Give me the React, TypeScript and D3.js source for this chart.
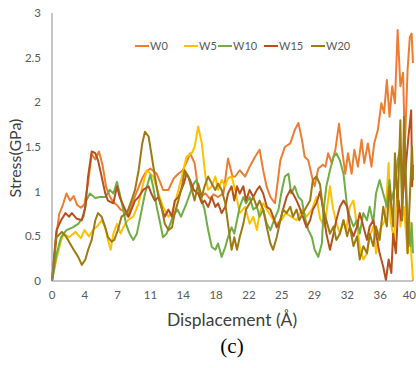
import React from "react";
import * as d3 from "d3";

const W0: [number, number][] = [[0,0],[0.4,0.45],[0.8,0.75],[1.2,0.85],[1.6,0.98],[2.0,0.9],[2.4,0.95],[2.8,0.85],[3.2,0.82],[3.6,0.86],[4.0,1.1],[4.4,1.42],[4.8,1.36],[5.2,1.45],[5.6,1.3],[6.0,1.05],[6.4,0.95],[6.8,0.88],[7.2,0.85],[7.6,0.8],[8.0,0.78],[8.4,0.72],[8.8,0.85],[9.2,0.95],[9.6,1.05],[10.0,1.15],[10.4,1.22],[10.9,1.26],[11.6,1.2],[12.0,1.1],[12.3,1.02],[12.9,1.02],[13.5,1.15],[14.0,1.2],[14.5,1.24],[15.0,1.35],[15.3,1.43],[15.8,1.32],[16.1,1.1],[16.4,0.94],[17.0,0.98],[17.5,0.92],[17.9,0.97],[18.4,0.94],[19.0,0.98],[19.5,1.37],[20.0,1.17],[20.3,1.17],[20.8,1.24],[21.4,1.17],[21.9,1.28],[22.5,1.39],[23.0,1.47],[23.4,1.24],[23.8,1.05],[24.2,0.94],[24.7,0.87],[25.0,1.1],[25.3,1.35],[25.8,1.5],[26.4,1.54],[26.9,1.69],[27.3,1.77],[27.7,1.58],[28.0,1.39],[28.4,1.35],[28.8,1.17],[29.1,1.06],[29.5,1.26],[30.0,1.3],[30.3,1.28],[30.6,1.43],[31.0,1.32],[31.4,1.47],[31.8,1.76],[32.1,1.5],[32.5,1.2],[32.8,1.43],[33.2,1.2],[33.5,1.47],[33.9,1.28],[34.3,1.58],[34.6,1.32],[35.0,1.54],[35.4,1.28],[35.7,1.54],[36.1,1.69],[36.5,1.99],[36.8,1.88],[37.1,2.25],[37.4,1.84],[37.7,2.18],[38.0,1.99],[38.3,2.81],[38.6,2.18],[38.9,2.33],[39.1,1.5],[39.4,2.36],[39.65,2.73],[39.85,2.77],[40,2.44]];

const W5: [number, number][] = [[0,0],[0.5,0.25],[1.0,0.45],[1.3,0.53],[1.9,0.49],[2.6,0.55],[3.2,0.48],[3.6,0.57],[4.1,0.5],[4.6,0.58],[5.0,0.61],[5.5,0.68],[5.9,0.6],[6.2,0.46],[6.5,0.35],[6.8,0.53],[7.2,0.64],[7.6,0.53],[7.9,0.6],[8.4,0.68],[9.0,0.72],[9.6,0.87],[10.0,1.05],[10.5,1.24],[11.2,1.17],[11.8,0.98],[12.3,0.83],[12.9,0.72],[13.3,0.76],[13.8,0.94],[14.4,1.17],[14.9,1.39],[15.5,1.43],[15.8,1.5],[16.2,1.73],[16.6,1.54],[17.0,1.17],[17.3,1.02],[17.7,1.06],[18.1,1.17],[18.4,1.02],[18.8,1.13],[19.2,1.06],[19.5,1.15],[19.9,1.17],[20.3,1.02],[20.8,0.76],[21.4,0.83],[21.9,0.64],[22.3,0.72],[22.7,0.57],[23.0,0.76],[23.4,0.87],[23.8,0.8],[24.3,0.72],[24.8,0.64],[25.4,0.68],[25.9,0.76],[26.5,0.72],[27.1,0.68],[27.7,0.8],[28.2,0.72],[28.8,0.8],[29.3,0.94],[29.7,0.7],[30.2,0.61],[30.8,1.06],[31.1,0.83],[31.5,0.65],[31.9,0.53],[32.3,0.68],[32.6,0.57],[33.0,0.83],[33.4,0.9],[33.8,0.61],[34.1,0.39],[34.5,0.24],[34.9,0.31],[35.2,0.5],[35.6,0.61],[35.9,0.31],[36.3,0.57],[36.9,0.68],[37.3,1.32],[37.5,0.68],[37.9,0.46],[38.3,1.06],[38.6,0.61],[39.0,0.83],[39.4,0.31],[39.6,0.68],[39.85,0.24],[40,0.0]];

const W10: [number, number][] = [[0,0],[0.5,0.3],[1.0,0.49],[1.6,0.57],[2.3,0.6],[2.9,0.64],[3.5,0.72],[3.8,0.9],[4.2,0.98],[4.8,0.93],[5.3,0.94],[5.9,0.94],[6.4,1.02],[6.8,0.98],[7.2,1.11],[7.5,0.98],[7.9,0.8],[8.2,0.64],[8.6,0.53],[9.0,0.46],[9.4,0.53],[9.75,0.7],[10.3,0.98],[10.9,1.19],[11.2,1.06],[11.6,0.83],[12.0,0.64],[12.3,0.49],[12.7,0.53],[13.1,0.64],[13.4,0.72],[13.9,0.8],[14.3,0.72],[14.9,0.87],[15.3,0.98],[15.7,1.09],[16.0,1.13],[16.4,0.98],[16.9,0.8],[17.3,0.57],[17.7,0.38],[18.1,0.35],[18.4,0.42],[18.8,0.27],[19.2,0.38],[19.5,0.49],[19.9,0.6],[20.2,0.53],[20.5,0.68],[20.8,0.83],[21.2,0.94],[21.5,0.87],[21.9,0.94],[22.3,0.8],[22.7,0.83],[23.0,0.72],[23.4,0.8],[23.8,0.64],[24.2,0.57],[24.6,0.68],[25.1,0.8],[25.4,0.98],[25.8,1.17],[26.2,1.2],[26.5,0.98],[26.9,1.06],[27.3,0.94],[27.7,0.9],[28.0,0.72],[28.4,0.57],[28.8,0.49],[29.1,0.35],[29.5,0.27],[29.9,0.42],[30.1,0.8],[30.4,1.06],[30.8,1.24],[31.2,1.39],[31.5,1.43],[31.9,1.35],[32.3,1.2],[32.7,0.83],[33.0,0.72],[33.4,0.61],[33.8,0.68],[34.1,0.53],[34.5,0.76],[34.9,0.68],[35.2,0.83],[35.6,0.65],[35.9,0.98],[36.3,1.13],[36.7,0.98],[37.1,0.83],[37.4,1.13],[37.6,0.9],[38.0,1.06],[38.3,1.35],[38.6,1.5],[38.8,0.98],[39.1,1.5],[39.4,0.68],[39.7,0.39],[39.85,0.65],[40,0.31]];

const W15: [number, number][] = [[0,0],[0.5,0.57],[1.0,0.68],[1.5,0.76],[1.9,0.72],[2.2,0.76],[2.7,0.7],[3.3,0.68],[3.7,0.83],[4.0,1.17],[4.4,1.45],[4.8,1.43],[5.1,1.35],[5.5,1.17],[5.9,0.98],[6.2,0.9],[6.8,0.87],[7.2,1.06],[7.5,0.94],[8.1,0.8],[8.5,0.72],[8.8,0.8],[9.2,0.9],[9.6,0.94],[10.1,1.02],[10.7,1.06],[11.0,0.98],[11.4,0.9],[11.8,0.94],[12.2,0.8],[12.5,0.72],[12.9,0.8],[13.3,0.72],[13.6,0.9],[14.0,0.94],[14.6,1.09],[14.9,1.2],[15.3,1.13],[15.7,1.02],[16.2,0.98],[16.6,0.87],[16.9,0.9],[17.3,0.83],[17.7,0.94],[18.1,0.83],[18.4,0.87],[18.8,0.76],[19.2,0.83],[19.5,0.98],[19.9,1.06],[20.2,0.9],[20.5,1.06],[20.8,0.98],[21.2,1.06],[21.5,0.9],[21.9,1.02],[22.3,0.94],[22.7,1.02],[23.0,1.06],[23.4,0.98],[23.8,0.83],[24.2,0.8],[24.5,0.72],[24.9,0.6],[25.3,0.68],[25.6,0.8],[26.0,0.94],[26.4,1.02],[26.7,0.98],[27.1,0.9],[27.4,0.83],[27.8,0.72],[28.2,0.6],[28.6,0.68],[28.9,0.8],[29.3,0.87],[29.7,1.0],[30.0,0.83],[30.4,0.53],[30.8,0.35],[31.2,0.53],[31.5,0.68],[31.9,0.83],[32.3,0.9],[32.7,0.83],[33.0,0.61],[33.4,0.5],[33.8,0.61],[34.1,0.76],[34.5,0.61],[34.9,0.46],[35.2,0.61],[35.6,0.68],[35.9,0.53],[36.3,0.31],[36.7,0.16],[37.0,0.01],[37.3,0.24],[37.6,0.09],[37.8,0.53],[38.1,0.31],[38.4,0.9],[38.7,0.68],[38.9,0.98],[39.2,1.28],[39.5,1.62],[39.8,1.91],[39.9,1.06],[40,1.3]];

const W20: [number, number][] = [[0,0],[0.5,0.49],[1.1,0.55],[1.6,0.49],[2.0,0.42],[2.4,0.35],[2.9,0.27],[3.3,0.18],[3.7,0.24],[4.0,0.35],[4.4,0.46],[4.8,0.68],[5.1,0.76],[5.5,0.72],[5.9,0.6],[6.2,0.49],[6.6,0.44],[6.9,0.46],[7.3,0.57],[7.7,0.72],[8.3,0.76],[8.8,0.9],[9.2,1.02],[9.6,1.24],[10.0,1.54],[10.3,1.67],[10.7,1.62],[11.0,1.43],[11.4,1.17],[11.8,0.94],[12.2,0.8],[12.5,0.64],[12.9,0.57],[13.3,0.6],[13.6,0.76],[14.0,0.9],[14.4,1.06],[14.7,1.24],[15.1,1.17],[15.5,1.02],[15.8,0.9],[16.2,1.09],[16.6,0.94],[16.9,1.06],[17.3,1.17],[17.7,1.09],[18.1,1.02],[18.4,1.09],[18.8,1.02],[19.2,0.87],[19.5,0.64],[19.9,0.35],[20.2,0.49],[20.5,0.35],[20.8,0.49],[21.2,0.64],[21.5,0.8],[21.9,0.87],[22.3,0.94],[22.7,0.83],[23.0,0.9],[23.4,0.8],[23.8,0.6],[24.2,0.42],[24.5,0.35],[24.9,0.49],[25.3,0.68],[25.6,0.8],[26.0,0.76],[26.4,0.83],[26.7,0.72],[27.1,0.8],[27.4,0.68],[27.8,0.76],[28.2,0.83],[28.6,0.9],[28.9,1.13],[29.3,1.17],[29.7,1.08],[30.0,0.83],[30.4,0.68],[30.8,0.53],[31.2,0.61],[31.5,0.46],[31.9,0.53],[32.3,0.68],[32.7,0.5],[33.0,0.61],[33.4,0.39],[33.8,0.5],[34.1,0.24],[34.5,0.39],[34.9,0.31],[35.2,0.53],[35.6,0.39],[35.9,0.61],[36.3,0.46],[36.7,0.83],[37.1,0.61],[37.4,1.06],[37.8,0.61],[38.0,1.43],[38.3,0.83],[38.6,1.8],[38.8,0.68],[39.0,1.84],[39.2,1.06],[39.4,0.31],[39.7,1.06],[39.9,1.5],[40,1.13]];

const SERIES_NAMES = ["W0", "W5", "W10", "W15", "W20"];
const SERIES_DATA = [W0, W5, W10, W15, W20];
const SERIES_COLORS = ["#ED7D31", "#FFC000", "#70AD47", "#B8501C", "#9E7A12"];

const X_TICK_LABELS = ["0", "4", "7", "11", "14", "18", "22", "25", "29", "32", "36", "40"];
const Y_TICKS = [0, 0.5, 1, 1.5, 2, 2.5, 3];

const FONT = "Lato, 'Open Sans', sans-serif";

export default function App() {
  const x = d3.scaleLinear().domain([0, 40]).range([52, 413]);
  const y = d3.scaleLinear().domain([0, 3]).range([281, 13]);
  const tickPos = d3.scaleLinear().domain([0, X_TICK_LABELS.length - 1]).range([0, 40]);
  const line = d3
    .line<[number, number]>()
    .x((d) => x(d[0]))
    .y((d) => y(d[1]));

  const legendX = [135, 184, 218, 264, 311];
  const legendY = 46;

  return (
    <svg
      width={416}
      height={368}
      style={{ position: "absolute", left: 0, top: 0, background: "#fff" }}
      fontFamily={FONT}
    >
      <rect x={0} y={0} width={416} height={368} fill="#fff" />
      {SERIES_DATA.map((s, i) => (
        <path
          key={SERIES_NAMES[i]}
          d={line(s) || ""}
          fill="none"
          stroke={SERIES_COLORS[i]}
          strokeWidth={2}
          strokeLinejoin="round"
        />
      ))}
      <line x1={x(0)} x2={x(0)} y1={y(3)} y2={y(0)} stroke="#8c8c8c" strokeWidth={1} />
      <line x1={x(0)} x2={x(40)} y1={y(0)} y2={y(0)} stroke="#8c8c8c" strokeWidth={1} />
      {Y_TICKS.map((t) => (
        <text key={t} x={41} y={y(t)} dy="0.35em" textAnchor="end" fontSize={11.5} fill="#595959">
          {t}
        </text>
      ))}
      {X_TICK_LABELS.map((lbl, i) => {
        const last = i === X_TICK_LABELS.length - 1;
        return (
          <text
            key={lbl}
            x={last ? 416 : x(tickPos(i))}
            y={299}
            textAnchor={last ? "end" : "middle"}
            fontSize={11.5}
            fill="#595959"
          >
            {lbl}
          </text>
        );
      })}
      <text
        transform={`translate(21,158) rotate(-90)`}
        textAnchor="middle"
        fontSize={16}
        fill="#404040"
      >
        Stress(GPa)
      </text>
      <text x={232} y={326} textAnchor="middle" fontSize={17.5} fill="#404040">
        Displacement (Å)
      </text>
      <text x={232} y={353} textAnchor="middle" fontSize={21} fontFamily="'Liberation Serif', 'DejaVu Serif', serif" fill="#000">
        (c)
      </text>
      {SERIES_NAMES.map((n, i) => (
        <g key={n} transform={`translate(${legendX[i]},${legendY})`}>
          <line x1={0} x2={14} y1={0} y2={0} stroke={SERIES_COLORS[i]} strokeWidth={2} />
          <text x={15} y={0} dy="0.35em" fontSize={11} fill="#595959">
            {n}
          </text>
        </g>
      ))}
    </svg>
  );
}
